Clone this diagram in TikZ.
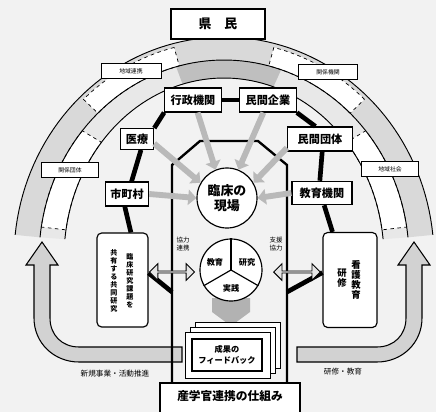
\documentclass[tikz,border=0pt]{standalone}
\usepackage{fontspec}
\setmainfont{Noto Sans CJK JP}
\usetikzlibrary{arrows.meta,shapes.arrows}

\begin{document}
\begin{tikzpicture}[x=0.03cm,y=-0.03cm,
  org/.style={draw,line width=1pt,fill=white,inner sep=1pt,font=\fontsize{9.5}{11}\selectfont\bfseries},
  tag/.style={draw,line width=.6pt,fill=white,inner sep=0pt,minimum height=.44cm,font=\fontsize{5}{6}\selectfont},
  tate/.style={align=center,inner sep=0pt},
  bond/.style={line width=4pt},
  push/.style={line width=5pt,gray!55,-{Triangle[length=7pt,width=13pt]}},
  panel/.style={fill=white,draw,dashed,line width=.6pt},
  bigarrow/.style={draw,line width=.9pt,fill=gray!35},
  note/.style={align=center,inner sep=1pt,font=\fontsize{6.5}{7.5}\selectfont}]
\useasboundingbox (0,0) rectangle (436,412);
\fill[gray!10] (0,0) rectangle (436,412);

\fill[gray!30] plot[domain=6:174,samples=80] ({224+210*cos(\x)},{258-221*sin(\x)}) -- plot[domain=174:6,samples=80] ({224+185*cos(\x)},{258-198*sin(\x)}) -- cycle;
\fill[gray!18] plot[domain=6:174,samples=80] ({224+185*cos(\x)},{258-198*sin(\x)}) -- plot[domain=174:6,samples=80] ({224+160*cos(\x)},{258-180*sin(\x)}) -- cycle;
\fill[gray!50] plot[domain=72:105,samples=20] ({224+185*cos(\x)},{258-198*sin(\x)}) -- plot[domain=105:72,samples=20] ({224+160*cos(\x)},{258-180*sin(\x)}) -- cycle;
\foreach \ta/\tb/\ro/\so/\ri/\si in {104/133/206/217/185/198, 47/76/206/217/185/198, 140/171/185/198/160/180, 9/40/185/198/160/180}
  \filldraw[panel] plot[domain=\ta:\tb,samples=20] ({224+\ro*cos(\x)},{258-\so*sin(\x)}) -- plot[domain=\tb:\ta,samples=20] ({224+\ri*cos(\x)},{258-\si*sin(\x)}) -- cycle;
\foreach \rx/\ry in {210/221,185/198,160/180}
  \draw[line width=.8pt] plot[domain=6:174,samples=80] ({224+\rx*cos(\x)},{258-\ry*sin(\x)});

\foreach \nm/\px/\py/\w/\txt in {tl/131/71/1.8/地域連携, tr/328/72/1.75/関係機関, lt/70/170/1.7/関係団体, rt/390/169/1.7/地域社会}
  \node[tag,minimum width=\w cm] (\nm) at (\px,\py) {\txt};

\node[org,line width=1.6pt,minimum width=2.8cm,minimum height=.9cm,font=\fontsize{11}{12}\selectfont\bfseries] (kenmin) at (218,24) {県\quad 民};

\draw[bigarrow] (182,347) -- (79,347) .. controls (62,347) and (50,335) .. (50,318) -- (50,265) -- (58,265) -- (42,242) -- (26,265) -- (34,265) -- (34,318) .. controls (34,343) and (54,362) .. (79,362) -- (182,362) -- cycle;
\draw[bigarrow] (297,347) -- (377,347) .. controls (394,347) and (406,335) .. (406,318) -- (406,265) -- (398,265) -- (414,242) -- (430,265) -- (422,265) -- (422,318) .. controls (422,343) and (402,362) .. (377,362) -- (297,362) -- cycle;
\node[note] (lnote) at (115,374) {新規事業・活動推進};
\node[note] (rnote) at (343,372) {研修・教育};

\coordinate (lj) at (172,292);
\coordinate (rj) at (287,292);
\draw[line width=2pt] (172,383) -- (lj) -- (172,165) -- (200,141) -- (258,141) -- (287,165) -- (rj) -- (287,383);

\fill[gray!60] (212,298) -- (250,298) -- (250,312) -- (231,326) -- (212,312) -- cycle;
\foreach \d in {10,5,0}
  \draw[fill=white,line width=.8pt] (185+\d,332-\d) rectangle (270+\d,378-\d);
\node[org,line width=1.2pt,minimum width=2.1cm,minimum height=.95cm,align=center,font=\fontsize{7}{9}\selectfont\bfseries] (fb) at (227,355) {成果の\\フィードバック};

\draw[line width=1pt,fill=white] (160,383) rectangle (300,420);
\node[font=\fontsize{10}{12}\selectfont\bfseries] (title) at (230,396) {産学官連携の仕組み};

\node[org,minimum width=1.7cm,minimum height=.72cm] (gyosei) at (193,100) {行政機関};
\node[org,minimum width=1.7cm,minimum height=.72cm] (minkan) at (268,100) {民間企業};
\node[org,minimum width=1cm,minimum height=.62cm] (iryo) at (137,139) {医療};
\node[org,minimum width=1.95cm,minimum height=.72cm] (dantai) at (320,139) {民間団体};
\node[org,minimum width=1.3cm,minimum height=.72cm] (shichoson) at (127,194) {市町村};
\node[org,minimum width=1.8cm,minimum height=.7cm] (kyoikukikan) at (322,193) {教育機関};

\node[org,rounded corners=4pt,minimum width=1.53cm,minimum height=2.82cm] (lbox) at (122.5,280) {};
\node[org,rounded corners=4pt,minimum width=1.62cm,minimum height=2.85cm] (rbox) at (350,280) {};
\node[tate,font=\fontsize{6}{6.8}\selectfont\bfseries] (lcolA) at (130,281) {臨\\床\\研\\究\\課\\題\\を};
\node[tate,font=\fontsize{6}{6.8}\selectfont\bfseries] (lcolB) at (114,281) {共\\有\\す\\る\\共\\同\\研\\究};
\node[tate,font=\fontsize{8}{8.6}\selectfont\bfseries] (rcolA) at (356,280) {看\\護\\教\\育};
\node[tate,font=\fontsize{8}{8.6}\selectfont\bfseries] (rcolB) at (342,278) {研\\修};

\draw[bond] (gyosei) -- (minkan);
\draw[bond] (gyosei.south west) -- (iryo.north east);
\draw[bond] (minkan.south east) -- (dantai.110);
\draw[bond] (iryo.-70) -- (shichoson.70);
\draw[bond] (dantai.-80) -- (kyoikukikan.100);
\draw[bond] (shichoson.-100) -- (lbox.80);
\draw[bond] (kyoikukikan.-80) -- (rbox.110);
\draw[bond] (lbox.15) -- (lj);
\draw[bond] (rbox.165) -- (rj);

\node[draw,circle,line width=1pt,fill=white,minimum size=1.8cm,inner sep=0pt,align=center,font=\fontsize{11}{13}\selectfont\bfseries] (genba) at (227,198) {臨床の\\現場};
\node[draw,circle,line width=1pt,fill=white,minimum size=1.86cm,inner sep=0pt] (sanmi) at (231,270) {};
\foreach \a in {90,210,330}
  \draw[line width=1pt] (sanmi.center) -- (sanmi.\a);
\node[font=\fontsize{7}{8}\selectfont\bfseries] (kyoiku) at (215,262) {教育};
\node[font=\fontsize{7}{8}\selectfont\bfseries] (kenkyu) at (247,262) {研究};
\node[font=\fontsize{7}{8}\selectfont\bfseries] (jissen) at (231,288) {実践};

\foreach \s/\t in {gyosei.-70/genba.112, minkan.-110/genba.68, iryo.-15/genba.150, dantai.195/genba.30, shichoson.east/genba.west, kyoikukikan.west/genba.east}
  \draw[push] (\s) -- (\t);

\node[double arrow,draw,line width=.8pt,fill=gray!20,minimum width=.5cm,minimum height=1.35cm,double arrow head extend=.1cm,inner sep=0pt] (ldbl) at (172,272) {};
\node[double arrow,draw,line width=.8pt,fill=gray!20,minimum width=.5cm,minimum height=1.4cm,double arrow head extend=.1cm,inner sep=0pt] (rdbl) at (297,272) {};
\node[note,font=\fontsize{5.5}{6.5}\selectfont] (lcap) at (183,244) {協力\\連携};
\node[note,font=\fontsize{5.5}{6.5}\selectfont] (rcap) at (276,244) {支援\\協力};
\end{tikzpicture}
\end{document}
